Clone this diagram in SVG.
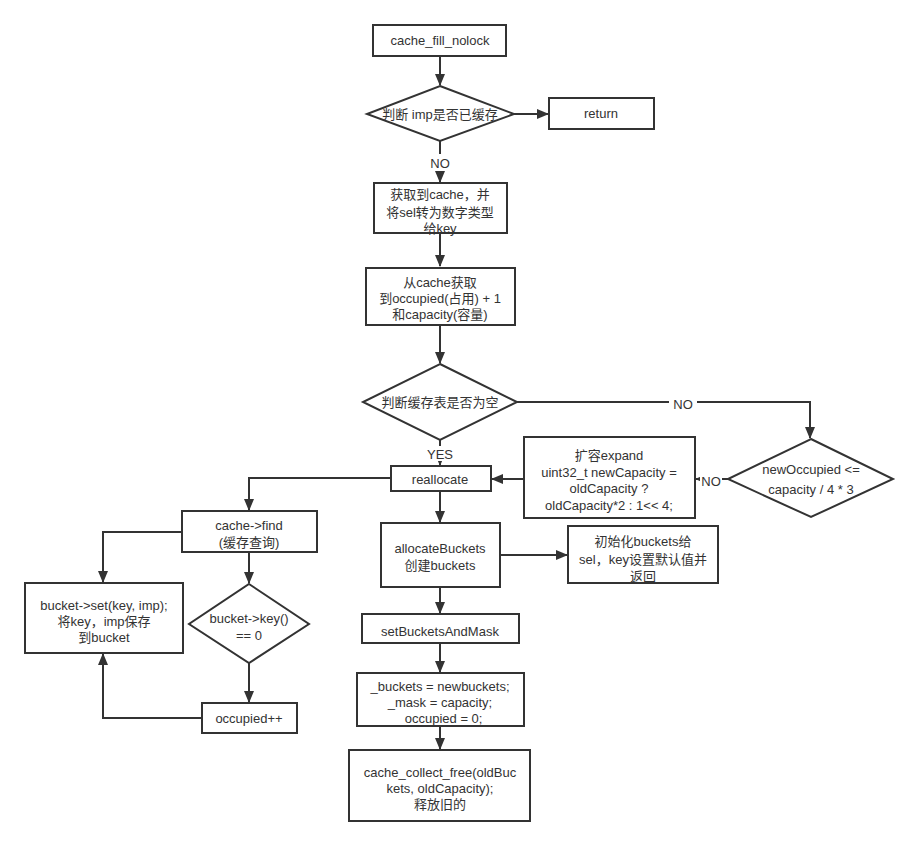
<svg xmlns="http://www.w3.org/2000/svg" width="917" height="846" viewBox="0 0 917 846">
<defs>
<style>
.n{fill:#fff;stroke:#333;stroke-width:2}
.c{fill:none;stroke:#333;stroke-width:2}
text{font-family:"Liberation Sans","Noto Sans CJK SC",sans-serif;font-size:13px;fill:#333;text-anchor:middle}
.lb{fill:#fff;stroke:none}
</style>
<marker id="a" markerUnits="userSpaceOnUse" markerWidth="12" markerHeight="10" refX="11" refY="5" orient="auto">
<path d="M0,0 L12,5 L0,10 Z" fill="#333"/>
</marker>
</defs>
<rect width="917" height="846" fill="#fff"/>
<g id="connectors">
<path class="c" d="M440,56 V85" marker-end="url(#a)"/>
<path class="c" d="M514,114 H548" marker-end="url(#a)"/>
<path class="c" d="M440,141 V182" marker-end="url(#a)"/>
<path class="c" d="M440,233 V266" marker-end="url(#a)"/>
<path class="c" d="M440,325 V363" marker-end="url(#a)"/>
<path class="c" d="M517,402 H810 V438" marker-end="url(#a)"/>
<path class="c" d="M440,440 V465" marker-end="url(#a)"/>
<path class="c" d="M728,479 H696" marker-end="url(#a)"/>
<path class="c" d="M524,479 H492" marker-end="url(#a)"/>
<path class="c" d="M391,478 H249 V510" marker-end="url(#a)"/>
<path class="c" d="M182,532 H103 V582" marker-end="url(#a)"/>
<path class="c" d="M249,552 V583" marker-end="url(#a)"/>
<path class="c" d="M249,663 V702" marker-end="url(#a)"/>
<path class="c" d="M202,718 H103 V654" marker-end="url(#a)"/>
<path class="c" d="M440,491 V522" marker-end="url(#a)"/>
<path class="c" d="M500,555 H567" marker-end="url(#a)"/>
<path class="c" d="M440,587 V613" marker-end="url(#a)"/>
<path class="c" d="M440,643 V672" marker-end="url(#a)"/>
<path class="c" d="M440,726 V749" marker-end="url(#a)"/>
<rect class="lb" x="426" y="154" width="28" height="17"/>
<text x="440" y="168">NO</text>
<rect class="lb" x="669" y="396" width="28" height="15"/>
<text x="683" y="409">NO</text>
<rect class="lb" x="700" y="473" width="22" height="15"/>
<text x="711" y="486">NO</text>
<rect class="lb" x="423" y="446" width="34" height="15"/>
<text x="440" y="459">YES</text>
</g>
<g id="n1"><rect class="n" x="373" y="25" width="133" height="31"/><text x="440" y="45">cache_fill_nolock</text></g>
<g id="n2"><path class="n" d="M440,86 L514,114 L440,141 L367,114 Z"/><text x="440" y="119">判断 imp是否已缓存</text></g>
<g id="n3"><rect class="n" x="549" y="98" width="105" height="31"/><text x="601" y="118">return</text></g>
<g id="n4"><rect class="n" x="374" y="183" width="133" height="50"/><text x="440" y="199">获取到cache，并</text><text x="440" y="217">将sel转为数字类型</text><text x="440" y="233">给key</text></g>
<g id="n5"><rect class="n" x="366" y="268" width="149" height="57"/><text x="440" y="287">从cache获取</text><text x="440" y="303">到occupied(占用) + 1</text><text x="440" y="319">和capacity(容量)</text></g>
<g id="n6"><path class="n" d="M440,364 L517,402 L440,440 L363,402 Z"/><text x="440" y="407">判断缓存表是否为空</text></g>
<g id="n7"><path class="n" d="M811,439 L893,479 L811,517 L728,479 Z"/><text x="811" y="474">newOccupied &lt;=</text><text x="811" y="494">capacity / 4 * 3</text></g>
<g id="n8"><rect class="n" x="524" y="437" width="171" height="81"/><text x="609" y="460">扩容expand</text><text x="609" y="477">uint32_t newCapacity =</text><text x="609" y="493">oldCapacity ?</text><text x="609" y="510">oldCapacity*2 : 1&lt;&lt; 4;</text></g>
<g id="n9"><rect class="n" x="391" y="466" width="100" height="25"/><text x="440" y="484">reallocate</text></g>
<g id="n10"><rect class="n" x="182" y="511" width="135" height="41"/><text x="249" y="530">cache-&gt;find</text><text x="249" y="547">(缓存查询)</text></g>
<g id="n11"><rect class="n" x="25" y="583" width="158" height="70"/><text x="104" y="610">bucket-&gt;set(key, imp);</text><text x="104" y="626">将key，imp保存</text><text x="104" y="642">到bucket</text></g>
<g id="n12"><path class="n" d="M249,584 L309,624 L249,663 L189,624 Z"/><text x="249" y="623">bucket-&gt;key()</text><text x="249" y="640">== 0</text></g>
<g id="n13"><rect class="n" x="202" y="703" width="95" height="30"/><text x="249" y="723">occupied++</text></g>
<g id="n14"><rect class="n" x="381" y="523" width="119" height="64"/><text x="440" y="553">allocateBuckets</text><text x="440" y="570">创建buckets</text></g>
<g id="n15"><rect class="n" x="568" y="526" width="150" height="57"/><text x="643" y="546">初始化buckets给</text><text x="643" y="564">sel，key设置默认值并</text><text x="643" y="581">返回</text></g>
<g id="n16"><rect class="n" x="362" y="614" width="157" height="29"/><text x="440" y="636">setBucketsAndMask</text></g>
<g id="n17"><rect class="n" x="357" y="673" width="167" height="53"/><text x="440" y="691">_buckets = newbuckets;</text><text x="440" y="707">_mask = capacity;</text><text x="440" y="723">_occupied = 0;</text></g>
<g id="n18"><rect class="n" x="349" y="750" width="181" height="71"/><text x="440" y="777">cache_collect_free(oldBuc</text><text x="440" y="793">kets, oldCapacity);</text><text x="440" y="809">释放旧的</text></g>
</svg>
